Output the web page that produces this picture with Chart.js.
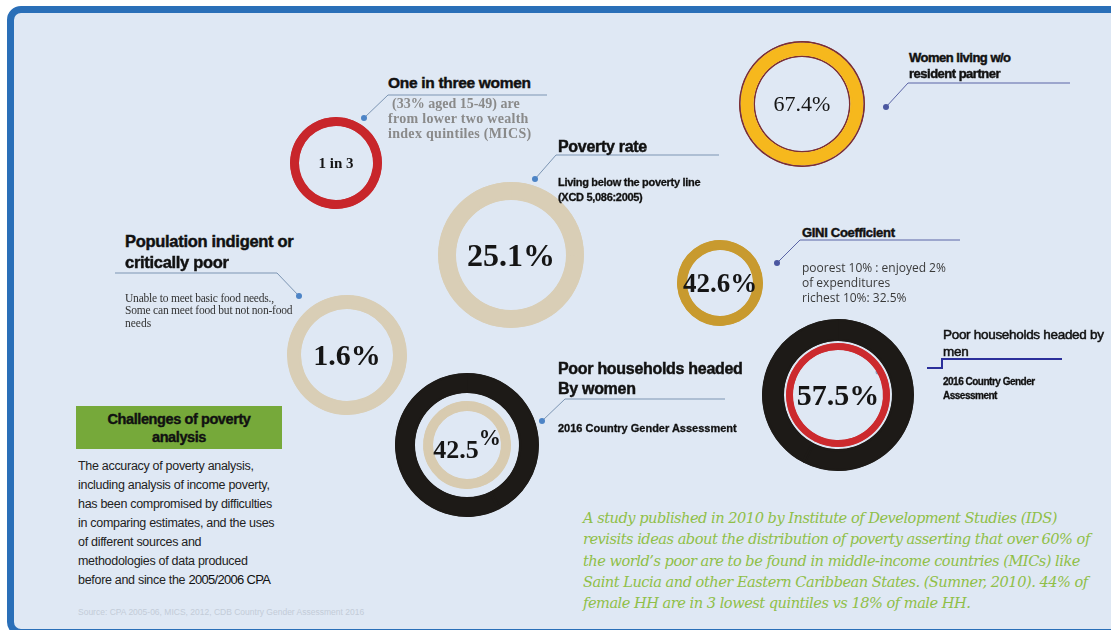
<!DOCTYPE html>
<html>
<head>
<meta charset="utf-8">
<script src="https://cdn.jsdelivr.net/npm/chart.js@4/dist/chart.umd.min.js"></script>
<style>
  body { margin: 0; width: 1111px; height: 630px; overflow: hidden; background: #fff; position: relative; }
  #frame { position: absolute; left: 7px; top: 6px; width: 1130px; height: 630px; box-sizing: border-box;
           border: 7px solid #2a6fb8; border-radius: 14px; background: #dfe8f4; }
  .ring { position: absolute; }
  .ring canvas { position: absolute; left: 0; top: 0; }
  .ringLabel { position: absolute; left: 0; right: 0; top: 50%; transform: translateY(-50%); text-align: center;
               color: #151515; font-family: "Liberation Serif", serif; font-weight: bold; white-space: nowrap; }
  .t { position: absolute; white-space: nowrap; color: #111; }
  .head { font-family: "Liberation Sans", Arial, sans-serif; font-weight: bold; letter-spacing: -0.3px;
          -webkit-text-stroke: 0.45px #111; }
  #links { position: absolute; left: 0; top: 0; }
</style>
</head>
<body>
<div id="frame"></div>
<svg id="links" width="1111" height="630"></svg>
<div id="rings"></div>
<div id="texts"></div>

<script>
// values shown inside the rings
const ringLabels = ['1 in 3', '25.1', '67.4', '42.6', '1.6', '42.5', '57.5'];
const ringValues = [33.3, 25.1, 67.4, 42.6, 1.6, 42.5, 57.5];
const ringUnits = ['', '%', '%', '%', '%', '%', '%'];

// ring placement and bands (outer radius, inner radius, colour), outer band first
const ringLayout = [
  { cx: 336, cy: 163, font: 'bold 15px "Liberation Serif"', bands: [[46, 37, '#c8262b']] },
  { cx: 511, cy: 255, font: 'bold 32px "Liberation Serif"', bands: [[73, 55, '#d9ceb6']] },
  { cx: 802, cy: 104, font: '22px "Liberation Serif"',
    bands: [[63, 61.5, '#7b2f35'], [61.5, 48.5, '#f6b81d'], [48.5, 47, '#7b2f35']] },
  { cx: 720, cy: 283, font: 'bold 27px "Liberation Serif"', bands: [[43, 33, '#c89a2f']] },
  { cx: 347, cy: 355, font: 'bold 30px "Liberation Serif"', bands: [[60, 46, '#d9ceb6']] },
  { cx: 467, cy: 445, font: 'bold 26px "Liberation Serif"', sup: true,
    bands: [[72, 52, '#1d1a17'], [44, 34, '#d8cbb0']] },
  { cx: 838, cy: 395, font: 'bold 30px "Liberation Serif"',
    bands: [[76, 54, '#1d1a17'], [52, 45, '#cc2a2e']] }
];

// callout texts: [left, centre y, text, class, css]
const calloutTexts = [
  [388, 83, 'One in three women', 'head', 'font-size:15.5px'],
  [392, 104, '(33% aged 15-49) are', '', 'font:bold 14px "Liberation Serif";color:#8a8a8a'],
  [388, 119, 'from lower two wealth', '', 'font:bold 14px "Liberation Serif";color:#8a8a8a;letter-spacing:0.3px'],
  [388, 134, 'index quintiles (MICS)', '', 'font:bold 14px "Liberation Serif";color:#8a8a8a;letter-spacing:0.3px'],
  [558, 147, 'Poverty rate', 'head', 'font-size:16px'],
  [558, 182, 'Living below the poverty line', 'head', 'font-size:11px;-webkit-text-stroke:0.3px #111'],
  [558, 197, '(XCD 5,086:2005)', 'head', 'font-size:11px;-webkit-text-stroke:0.3px #111'],
  [909, 58, 'Women living w/o', 'head', 'font-size:13px;letter-spacing:-0.5px'],
  [909, 74, 'resident partner', 'head', 'font-size:13px;letter-spacing:-0.5px'],
  [802, 233, 'GINI Coefficient', 'head', 'font-size:13px'],
  [802, 268, 'poorest 10% : enjoyed 2%', '', 'font:12px "Open Sans";color:#3a3a3a'],
  [802, 283, 'of  expenditures', '', 'font:12px "Open Sans";color:#3a3a3a'],
  [802, 298, 'richest 10%: 32.5%', '', 'font:12px "Open Sans";color:#3a3a3a'],
  [125, 241, 'Population indigent or', 'head', 'font-size:16.5px'],
  [125, 262, 'critically poor', 'head', 'font-size:16.5px'],
  [125, 298, 'Unable to meet basic food needs.,', '', 'font:11.5px "Liberation Serif";color:#333;letter-spacing:-0.2px'],
  [125, 310, 'Some can meet food but not non-food', '', 'font:11.5px "Liberation Serif";color:#333;letter-spacing:-0.2px'],
  [125, 323, 'needs', '', 'font:11.5px "Liberation Serif";color:#333'],
  [558, 369, 'Poor households headed', 'head', 'font-size:16px'],
  [558, 389, 'By women', 'head', 'font-size:16px'],
  [558, 428, '2016 Country Gender Assessment', 'head', 'font-size:11px;letter-spacing:0;-webkit-text-stroke:0.3px #111'],
  [943, 335, 'Poor households headed by', 'head', 'font-size:13.5px;font-weight:normal;-webkit-text-stroke:0.5px #111'],
  [943, 352, 'men', 'head', 'font-size:13.5px;font-weight:normal;-webkit-text-stroke:0.5px #111'],
  [943, 382, '2016 Country Gender', 'head', 'font-size:10px;letter-spacing:-0.5px;-webkit-text-stroke:0.3px #111'],
  [943, 396, 'Assessment', 'head', 'font-size:10px;letter-spacing:-0.5px;-webkit-text-stroke:0.3px #111']
];

const challengeLines = [
  'The accuracy of poverty analysis,',
  'including analysis of income poverty,',
  'has been compromised by difficulties',
  'in comparing estimates, and the uses',
  'of different sources and',
  'methodologies of data produced',
  'before and since the '
];

const studyLines = [
  'A study published in 2010 by Institute of Development Studies (IDS)',
  'revisits ideas about the distribution of poverty asserting that over 60% of',
  'the world\u2019s poor are to be found in middle-income countries (MICs) like',
  'Saint Lucia and other Eastern Caribbean States. (Sumner, 2010). 44% of',
  'female HH are in 3 lowest quintiles vs 18% of male HH.'
];

// connector lines: polyline points, dot at the first point
const connectors = [
  [[364, 118], [388, 95], [547, 95]],
  [[535, 179], [556, 155], [719, 155]],
  [[886, 107], [908, 83], [1070, 83]],
  [[777, 263], [800, 240], [960, 240]],
  [[299, 296], [277, 273], [115, 273]],
  [[542, 421], [565, 399], [725, 399]]
];

function addText(parent, left, cy, text, cls, css, lh) {
  const d = document.createElement('div');
  d.className = 't ' + cls;
  d.style.cssText = css;
  lh = lh || 20;
  d.style.lineHeight = lh + 'px';
  d.style.left = left + 'px';
  d.style.top = (cy - lh / 2) + 'px';
  d.textContent = text;
  parent.appendChild(d);
  return d;
}

function drawRing(i) {
  const lay = ringLayout[i];
  const outer = lay.bands[0][0];
  const inner = lay.bands[lay.bands.length - 1][1];
  const size = Math.ceil(outer * 2) + 2;

  const box = document.createElement('div');
  box.className = 'ring';
  box.style.left = (lay.cx - size / 2) + 'px';
  box.style.top = (lay.cy - size / 2) + 'px';
  box.style.width = size + 'px';
  box.style.height = size + 'px';
  const cv = document.createElement('canvas');
  cv.width = size;
  cv.height = size;
  box.appendChild(cv);

  const v = ringValues[i];
  const datasets = [];
  let prev = outer;
  lay.bands.forEach(b => {
    if (prev - b[0] > 0.01) {
      datasets.push({ data: [v, 100 - v], backgroundColor: 'rgba(0,0,0,0)', borderWidth: 0, weight: prev - b[0] });
    }
    // same colour on both slices, inner border hides the seam between them
    datasets.push({ data: [v, 100 - v], backgroundColor: [b[2], b[2]], borderColor: b[2],
                    borderWidth: 2, borderAlign: 'inner', weight: b[0] - b[1] });
    prev = b[1];
  });

  new Chart(cv, {
    type: 'doughnut',
    data: { labels: [ringLabels[i], ''], datasets: datasets },
    options: {
      responsive: false,
      animation: false,
      events: [],
      radius: outer,
      cutout: (inner / outer * 100) + '%',
      hoverOffset: 0,
      spacing: 0,
      layout: { padding: 0 },
      plugins: { legend: { display: false }, tooltip: { enabled: false } }
    }
  });

  const lab = document.createElement('div');
  lab.className = 'ringLabel';
  lab.style.font = lay.font;
  if (lay.sup) {
    lab.innerHTML = ringLabels[i] + '<span style="font-size:0.85em;vertical-align:0.55em">' + ringUnits[i] + '</span>';
  } else {
    lab.textContent = ringLabels[i] + ringUnits[i];
  }
  box.appendChild(lab);
  document.getElementById('rings').appendChild(box);
}

function drawLinks() {
  const svg = document.getElementById('links');
  let html = '';
  connectors.forEach((pts, k) => {
    const col = (k === 2 || k === 3) ? '#5b64a6' : '#7c95b3';
    const dot = (k === 2 || k === 3) ? '#4b57a0' : '#4d84c6';
    html += '<polyline fill="none" stroke="' + col + '" stroke-width="1" points="' +
      pts.map(p => p.join(',')).join(' ') + '"/>';
    html += '<circle cx="' + pts[0][0] + '" cy="' + pts[0][1] + '" r="3" fill="' + dot + '"/>';
  });
  // step line under the men callout
  html += '<polyline fill="none" stroke="#2b2f9a" stroke-width="2" points="927,368 942,368 942,359 1062,359"/>';
  html += '<circle cx="878" cy="372" r="2.5" fill="#8ea6c6"/>';
  svg.innerHTML = html;
}

function drawTexts() {
  const root = document.getElementById('texts');
  calloutTexts.forEach(t => addText(root, t[0], t[1], t[2], t[3], t[4]));

  // green heading box
  const box = document.createElement('div');
  box.style.cssText = 'position:absolute;left:76px;top:406px;width:206px;height:43px;background:#76a93a;' +
    'text-align:center;font:bold 14.5px "Liberation Sans";letter-spacing:-0.4px;line-height:18px;padding-top:4px;' +
    'box-sizing:border-box;color:#111;-webkit-text-stroke:0.4px #111';
  box.innerHTML = 'Challenges of poverty<br>analysis';
  root.appendChild(box);

  challengeLines.forEach((line, k) => {
    const d = addText(root, 78, 466 + k * 19, line, '', 'font:12.5px "Liberation Sans";color:#222;letter-spacing:-0.3px', 19);
    if (k === challengeLines.length - 1) {
      const s = document.createElement('span');
      s.style.cssText = 'font:13px "Liberation Sans";letter-spacing:-0.7px;color:#111';
      s.textContent = '2005/2006 CPA';
      d.appendChild(s);
    }
  });

  addText(root, 78, 612, 'Source: CPA 2005-06,  MICS, 2012,  CDB Country Gender Assessment 2016', '',
    'font:8.5px "Liberation Sans";color:#c3ccd8', 12);

  studyLines.forEach((line, k) => {
    addText(root, 583, 518 + k * 21.3, line, '',
      'font:italic 14.6px "DejaVu Serif";color:#8fbf48;letter-spacing:-0.5px', 20);
  });
}

for (let i = 0; i < ringLabels.length; i++) drawRing(i);
drawLinks();
drawTexts();
</script>
</body>
</html>
